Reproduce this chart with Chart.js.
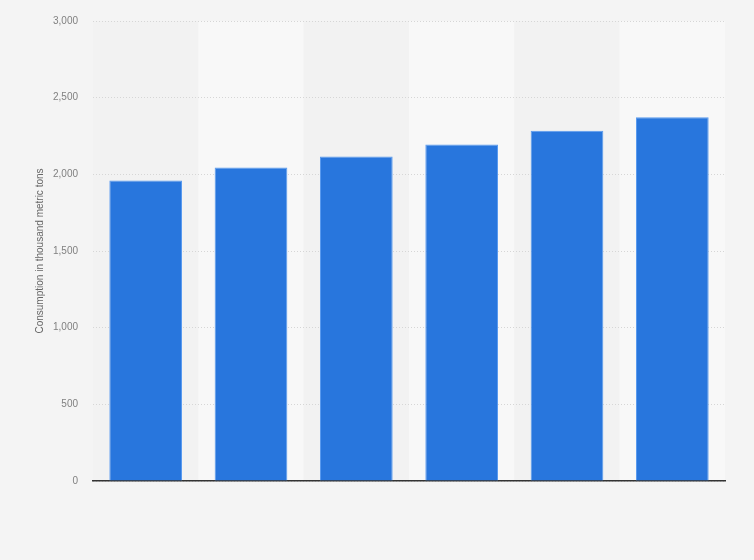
<!DOCTYPE html>
<html>
<head>
<meta charset="utf-8">
<script src="https://cdn.jsdelivr.net/npm/chart.js@4"></script>
<style>
  html, body { margin: 0; padding: 0; background: #f4f4f4; }
  #wrap { width: 754px; height: 560px; }
</style>
</head>
<body>
<div id="wrap"><canvas id="consumo"></canvas></div>
<script>
const years = ['2018', '2019', '2020', '2021', '2022', '2023'];
const consumption = [1960, 2045, 2117, 2195, 2285, 2372];
const yTicks = [0, 500, 1000, 1500, 2000, 2500, 3000];

// alternating column shading behind the bars
const columnBands = {
    id: 'columnBands',
    beforeDraw(chart) {
        const { ctx, chartArea, scales } = chart;
        const x = scales.x;
        const step = (chartArea.right - chartArea.left) / years.length;
        ctx.save();
        years.forEach((y, i) => {
            const c = x.getPixelForValue(i);
            ctx.fillStyle = i % 2 === 0 ? '#f2f2f2' : '#f8f8f8';
            ctx.fillRect(c - step / 2, chartArea.top, step, chartArea.bottom - chartArea.top);
        });
        ctx.restore();
    }
};

const ctx = document.getElementById('consumo').getContext('2d');
const chart = new Chart(ctx, {
    type: 'bar',
    data: {
        labels: years,
        datasets: [{
            label: 'Consumption',
            data: consumption,
            backgroundColor: '#2876dd',
            borderColor: '#5a9bef',
            borderWidth: { top: 1, left: 1, right: 1, bottom: 0 },
            categoryPercentage: 0.69,
            barPercentage: 1
        }]
    },
    options: {
        responsive: true,
        maintainAspectRatio: false,
        animation: false,
        layout: { padding: { left: 30, right: 29, top: 20, bottom: 79 } },
        plugins: {
            legend: { display: false },
            tooltip: { enabled: false }
        },
        scales: {
            x: {
                grid: { display: false },
                ticks: { display: false },
                border: { display: true, color: '#333333', width: 1.5 },
                afterFit: (s) => { s.height = 0; }
            },
            y: {
                min: 0,
                max: 3000,
                afterBuildTicks: (s) => { s.ticks = yTicks.map(v => ({ value: v })); },
                afterFit: (s) => { s.width = 63; },
                ticks: {
                    color: '#808080',
                    font: { family: 'Liberation Sans, Arial', size: 10 },
                    padding: 15,
                    callback: (v) => v.toLocaleString('en-US')
                },
                grid: { color: '#d6d6d6', drawTicks: false, lineWidth: 1 },
                border: { display: false, dash: [1, 2] },
                title: {
                    display: true,
                    text: 'Consumption in thousand metric tons',
                    color: '#666666',
                    font: { family: 'Liberation Sans, Arial', size: 10 },
                    padding: { top: 4, bottom: 0 }
                }
            }
        }
    },
    plugins: [columnBands]
});
</script>
</body>
</html>
